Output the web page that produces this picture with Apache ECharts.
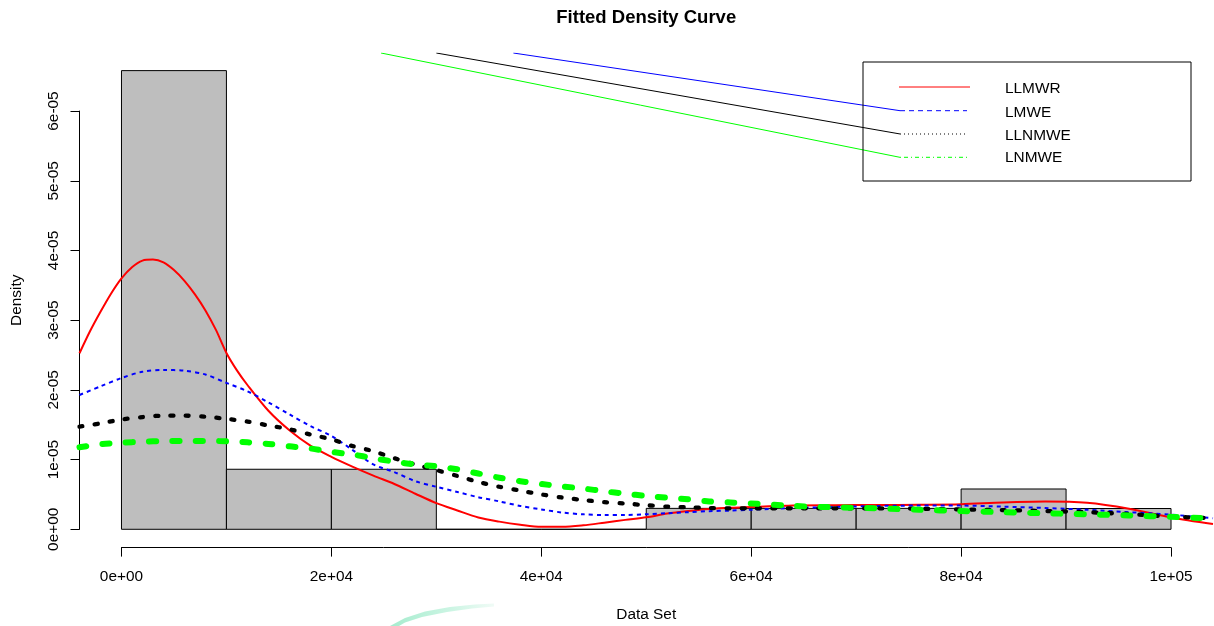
<!DOCTYPE html>
<html>
<head>
<meta charset="utf-8">
<script src="https://cdn.jsdelivr.net/npm/echarts@6/dist/echarts.min.js"></script>
<style>
html,body{margin:0;padding:0;background:#ffffff;}
#chart{width:1214px;height:626px;}
</style>
</head>
<body>
<div id="chart"></div>
<script>
// ---------------- DATA ----------------
const densityUnit = 1e-5;
// histogram: bin edges and density heights (in units of 1e-5)
const binStarts = [0, 10000, 20000, 30000, 40000, 50000, 60000, 70000, 80000, 90000];
const binEnds   = [10000, 20000, 30000, 40000, 50000, 60000, 70000, 80000, 90000, 100000];
const binDensity = [6.58, 0.861, 0.861, 0, 0, 0.30, 0.30, 0.30, 0.578, 0.298];

// fitted density curves (x in data units, y in units of 1e-5)
const llmwrX = [-4000,-3000,-2000,-1000,0,1000,2000,3000,4000,5000,6000,7000,8000,9000,10000,11000,12000,14000,16000,18000,20000,22000,24000,26000,28000,30000,32000,34000,36000,38000,40000,42000,44000,46000,48000,50000,52000,54000,56000,58000,60000,64000,68000,72000,76000,80000,84000,88000,92000,96000,100000,104000];
const llmwr  = [2.525,2.84,3.12,3.38,3.60,3.76,3.855,3.87,3.83,3.72,3.565,3.37,3.14,2.86,2.53,2.28,2.07,1.70,1.42,1.20,1.04,0.90,0.77,0.65,0.51,0.375,0.27,0.17,0.11,0.065,0.035,0.035,0.057,0.095,0.135,0.172,0.225,0.262,0.292,0.31,0.32,0.34,0.345,0.348,0.352,0.36,0.385,0.398,0.38,0.295,0.17,0.076];
const curveX = [-4000,-2000,0,2000,4000,6000,8000,10000,12000,14000,16000,18000,20000,22000,24000,26000,28000,30000,32000,34000,36000,38000,40000,42000,44000,46000,48000,50000,52000,54000,56000,58000,60000,64000,68000,72000,76000,80000,84000,88000,92000,96000,100000,104000];
const lmwe   = [1.927,2.05,2.17,2.26,2.285,2.275,2.22,2.10,1.98,1.82,1.65,1.48,1.34,1.14,0.93,0.82,0.69,0.61,0.535,0.46,0.40,0.335,0.285,0.24,0.215,0.205,0.205,0.215,0.23,0.245,0.26,0.268,0.28,0.305,0.32,0.335,0.34,0.34,0.325,0.305,0.28,0.245,0.21,0.158];
const llnmwe = [1.472,1.52,1.575,1.61,1.63,1.63,1.615,1.585,1.545,1.49,1.435,1.36,1.29,1.195,1.12,1.02,0.93,0.85,0.765,0.68,0.61,0.555,0.50,0.455,0.42,0.39,0.37,0.345,0.325,0.315,0.305,0.30,0.30,0.30,0.30,0.30,0.295,0.285,0.275,0.262,0.245,0.218,0.183,0.158];
const lnmwe  = [1.176,1.22,1.242,1.257,1.265,1.267,1.267,1.262,1.248,1.225,1.19,1.16,1.11,1.073,1.02,0.97,0.93,0.905,0.86,0.80,0.74,0.69,0.65,0.615,0.585,0.545,0.51,0.48,0.453,0.43,0.40,0.385,0.37,0.335,0.315,0.30,0.28,0.262,0.245,0.23,0.215,0.198,0.178,0.155];

const seriesNames = ['LLMWR', 'LMWE', 'LLNMWE', 'LNMWE'];

// stray legend leader lines seen in the figure (start at top edge, end at legend keys)
const leaderX = [[37340, 74180], [30000, 74180], [24730, 74180]];
const leaderY = [[6.8328, 6.005], [6.8328, 5.671], [6.8328, 5.336]];

// axis ticks
const xTickValues = [0, 20000, 40000, 60000, 80000, 100000];
const xTickLabels = ['0e+00', '2e+04', '4e+04', '6e+04', '8e+04', '1e+05'];
const yTickLabels = ['0e+00', '1e-05', '2e-05', '3e-05', '4e-05', '5e-05', '6e-05'];

const titleText = 'Fitted Density Curve';
const xTitle = 'Data Set';
const yTitle = 'Density';

// ---------------- LAYOUT ----------------
const W = 1214, H = 626;
const PLOT = { left: 79.5, top: 53, right: 1213, bottom: 547.6 };
const usrX = [-4000, 104000];
const usrY = [-0.2628 * densityUnit, 6.8328 * densityUnit];
const pw = PLOT.right - PLOT.left, ph = PLOT.bottom - PLOT.top;
const xpx = v => PLOT.left + (v - usrX[0]) / (usrX[1] - usrX[0]) * pw;
const ypx = v => PLOT.top + (usrY[1] - v) / (usrY[1] - usrY[0]) * ph;

const xAxisLeft = xpx(xTickValues[0]);
const xAxisRight = xpx(xTickValues[xTickValues.length - 1]);
const yAxisBottom = ypx(0);
const yAxisTop = ypx((yTickLabels.length - 1) * densityUnit);

const FONT = 'Liberation Sans, Arial, Helvetica, sans-serif';
const FS = 15.4;

function pairs(xs, ys) { return xs.map((x, i) => [x, ys[i] * densityUnit]); }

const histData = binStarts.map((s, i) => [s, binEnds[i], binDensity[i] * densityUnit]);

const curveStyles = [
  { color: '#FF0000', width: 2, type: 'solid', cap: 'butt' },
  { color: '#0000FF', width: 2, type: [4, 4], cap: 'butt' },
  { color: '#000000', width: 4.3, type: [3, 12.3], cap: 'round' },
  { color: '#00FF00', width: 6, type: [7, 16.3], cap: 'round' }
];
const curveXs = [llmwrX, curveX, curveX, curveX];
const curveData = [llmwr, lmwe, llnmwe, lnmwe];
const leaderColors = ['#0000FF', '#000000', '#00FF00'];

const series = [];
series.push({
  type: 'custom',
  xAxisIndex: 0, yAxisIndex: 0,
  clip: true,
  silent: true,
  data: histData,
  encode: { x: [0, 1], y: 2 },
  renderItem: function (params, api) {
    const p0 = api.coord([api.value(0), 0]);
    const p1 = api.coord([api.value(1), api.value(2)]);
    return {
      type: 'rect',
      shape: { x: p0[0], y: p1[1], width: p1[0] - p0[0], height: p0[1] - p1[1] },
      style: { fill: '#BEBEBE', stroke: '#000000', lineWidth: 1 }
    };
  }
});
curveData.forEach((arr, i) => {
  const st = curveStyles[i];
  series.push({
    name: seriesNames[i],
    type: 'line',
    xAxisIndex: 0, yAxisIndex: 0,
    data: pairs(curveXs[i], arr),
    showSymbol: false,
    symbol: 'none',
    smooth: 0.3,
    clip: true,
    silent: true,
    lineStyle: { color: st.color, width: st.width, type: st.type, cap: st.cap, join: 'round' }
  });
});
leaderX.forEach((xs, i) => {
  series.push({
    type: 'line',
    xAxisIndex: 0, yAxisIndex: 0,
    data: pairs(xs, leaderY[i]),
    showSymbol: false,
    symbol: 'none',
    clip: true,
    silent: true,
    lineStyle: { color: leaderColors[i], width: 1 }
  });
});

// legend (drawn to match the R legend box)
const legendBox = { x: 863, y: 62, w: 328, h: 119 };
const legendKeyY = [87, 110.7, 134, 157.3];
const legendKeyX0 = [899, 900, 900, 900];
const legendKeyX1 = [970, 967, 967, 967];
const legendTextY = [88.8, 112.8, 135.5, 158];
const legendDash = [null, [5, 4], [1, 3], [1, 3, 4, 3]];
const legendColors = ['#FF0000', '#0000FF', '#000000', '#00FF00'];

const graphics = [];
graphics.push({
  type: 'rect', silent: true, z: 10,
  shape: { x: legendBox.x, y: legendBox.y, width: legendBox.w, height: legendBox.h },
  style: { fill: 'none', stroke: '#000000', lineWidth: 1 }
});
seriesNames.forEach((n, i) => {
  graphics.push({
    type: 'line', silent: true, z: 11,
    shape: { x1: legendKeyX0[i], y1: legendKeyY[i], x2: legendKeyX1[i], y2: legendKeyY[i] },
    style: { stroke: legendColors[i], lineWidth: 1, lineDash: legendDash[i] }
  });
  graphics.push({
    type: 'text', silent: true, z: 11,
    x: 1005, y: legendTextY[i],
    style: { text: n, fill: '#000', font: FS + 'px ' + FONT, textAlign: 'left', textVerticalAlign: 'middle' }
  });
});
graphics.push({
  type: 'text', silent: true,
  x: (PLOT.left + PLOT.right) / 2, y: 614.8,
  style: { text: xTitle, fill: '#000', font: FS + 'px ' + FONT, textAlign: 'center', textVerticalAlign: 'middle' }
});
graphics.push({
  type: 'text', silent: true,
  x: 16.7, y: (PLOT.top + PLOT.bottom) / 2, rotation: Math.PI / 2,
  style: { text: yTitle, fill: '#000', font: FS + 'px ' + FONT, textAlign: 'center', textVerticalAlign: 'middle' }
});
// faint green smudge seen under the x-axis in the source picture
graphics.push({
  type: 'polygon', silent: true, z: -1,
  shape: { points: [[390,626],[405,618],[425,611.5],[450,607],[475,604.5],[494,603.5],[494,606.5],[472,608.5],[447,612],[422,617],[405,622.5],[399,626]] },
  style: {
    fill: new echarts.graphic.LinearGradient(0, 0, 1, 0, [
      { offset: 0, color: '#a6ecce' },
      { offset: 0.6, color: '#cdf5e4' },
      { offset: 1, color: '#f0fbf6' }
    ])
  }
});

const option = {
  animation: false,
  backgroundColor: '#ffffff',
  title: {
    text: titleText,
    left: (PLOT.left + PLOT.right) / 2,
    top: 8.5,
    padding: 0,
    textAlign: 'center',
    textStyle: { fontSize: 18.5, fontWeight: 'bold', fontFamily: FONT, color: '#000' }
  },
  grid: [
    { left: PLOT.left, top: PLOT.top, width: pw, height: ph, containLabel: false, outerBoundsMode: 'none', show: false },
    { left: xAxisLeft, top: PLOT.bottom - 8, width: xAxisRight - xAxisLeft, height: 8, containLabel: false, outerBoundsMode: 'none', show: false },
    { left: PLOT.left, top: yAxisTop, width: 10, height: yAxisBottom - yAxisTop, containLabel: false, outerBoundsMode: 'none', show: false }
  ],
  xAxis: [
    { gridIndex: 0, type: 'value', min: usrX[0], max: usrX[1], show: false },
    {
      gridIndex: 1, type: 'value', position: 'bottom',
      min: xTickValues[0], max: xTickValues[xTickValues.length - 1], interval: xTickValues[1] - xTickValues[0],
      axisLine: { show: true, onZero: false, lineStyle: { color: '#000', width: 1 } },
      axisTick: { show: true, inside: false, length: 9, lineStyle: { color: '#000', width: 1 } },
      splitLine: { show: false },
      axisLabel: {
        show: true, margin: 22, color: '#000', fontSize: FS, fontFamily: FONT,
        showMinLabel: true, showMaxLabel: true, hideOverlap: false,
        formatter: function (v) { const i = xTickValues.indexOf(Math.round(v)); return i >= 0 ? xTickLabels[i] : ''; }
      }
    },
    { gridIndex: 2, type: 'value', min: 0, max: 1, show: false }
  ],
  yAxis: [
    { gridIndex: 0, type: 'value', min: usrY[0], max: usrY[1], show: false },
    { gridIndex: 1, type: 'value', min: 0, max: 1, show: false },
    {
      gridIndex: 2, type: 'value', position: 'left',
      min: 0, max: (yTickLabels.length - 1) * densityUnit, interval: densityUnit,
      axisLine: { show: true, onZero: false, lineStyle: { color: '#000', width: 1 } },
      axisTick: { show: true, inside: false, length: 9, lineStyle: { color: '#000', width: 1 } },
      splitLine: { show: false },
      axisLabel: {
        show: true, rotate: 90, margin: 18, color: '#000', fontSize: FS, fontFamily: FONT,
        showMinLabel: true, showMaxLabel: true, hideOverlap: false,
        formatter: function (v) { const i = Math.round(v / densityUnit); return yTickLabels[i] || ''; }
      }
    }
  ],
  series: series,
  graphic: graphics
};

const chart = echarts.init(document.getElementById('chart'), null, { renderer: 'canvas', width: W, height: H });
chart.setOption(option);
</script>
</body>
</html>
